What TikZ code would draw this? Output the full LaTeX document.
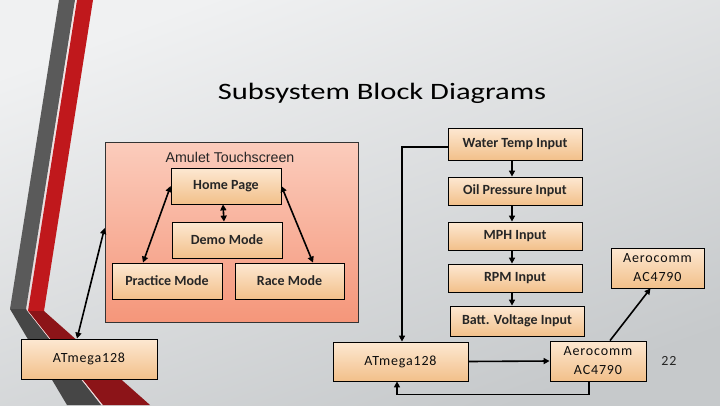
\documentclass[tikz,border=0pt]{standalone}
\usepackage{fontspec}
\setmainfont{Carlito}[Numbers=OldStyle]
\newfontfamily\arialfont{Liberation Sans}
\newfontfamily\widefont{Carlito}[LetterSpace=6]
\usetikzlibrary{arrows.meta}
\definecolor{bgtop}{RGB}{240,241,242}
\definecolor{bgbot}{RGB}{198,201,203}
\definecolor{boxtop}{RGB}{253,232,210}
\definecolor{boxbot}{RGB}{242,192,138}
\definecolor{contop}{RGB}{251,204,188}
\definecolor{conbot}{RGB}{245,150,122}
\definecolor{grayup}{RGB}{90,90,90}
\definecolor{graylow}{RGB}{70,70,70}
\definecolor{redup}{RGB}{192,24,28}
\definecolor{redlow}{RGB}{140,20,24}
\tikzset{
  blk/.style={draw=black, line width=0.8pt, top color=boxtop, bottom color=boxbot,
    font=\fontsize{14}{15}\selectfont\bfseries, text=black!85, align=center, inner sep=0pt},
  thinblk/.style={blk, font=\widefont\fontsize{14}{19}\selectfont, text=black!95},
  conbox/.style={draw=black!80, line width=0.8pt, top color=contop, bottom color=conbot, inner sep=0pt},
  link/.style={line width=1.6pt, -{Triangle[length=6pt,width=6pt]}},
  dlink/.style={line width=1.6pt, {Triangle[length=6pt,width=6pt]}-{Triangle[length=6pt,width=6pt]}}
}
\begin{document}
\begin{tikzpicture}[x=1pt,y=-1pt]
\useasboundingbox (0,0) rectangle (720,405);
% background
\shade[shading=axis, top color=bgtop, bottom color=bgbot, shading angle=20] (0,0) rectangle (720,405);
% ribbons
\fill[grayup] (59,0) -- (75,0) -- (26,309) -- (10,309) -- cycle;
\fill[redup] (77,0) -- (93,0) -- (44,311) -- (28,311) -- cycle;
\fill[graylow] (10,309) -- (26,309) -- (101,405) -- (67,405) -- cycle;
\fill[redlow] (28,311) -- (44,311) -- (150,405) -- (103,405) -- cycle;
\draw[white!85!red, line width=0.5pt] (76,0) -- (27,310) -- (102,405);
% title
\node (title) at (382,93) {\scalebox{1.3}[1]{\fontsize{23.5}{28}\selectfont Subsystem Block Diagrams}};
% container
\node[conbox, minimum width=253pt, minimum height=180pt] (amulet) at (231.5,232) {};
\node[font=\arialfont\fontsize{14.2}{16}\selectfont, text=black!85] (amlabel) at (230,157) {Amulet Touchscreen};
% left boxes
\node[blk, minimum width=110pt, minimum height=36pt] (home) at (226,186) {Home Page};
\node[blk, minimum width=110pt, minimum height=36pt] (demo) at (227,240) {Demo Mode};
\node[blk, minimum width=110pt, minimum height=36pt] (practice) at (167,281) {Practice Mode};
\node[blk, minimum width=109pt, minimum height=36pt] (race) at (289.5,281) {Race Mode};
\node[thinblk, minimum width=136pt, minimum height=40pt] (atm1) at (89,359) {ATmega128};
% right column
\node[blk, minimum width=134pt, minimum height=32pt] (water) at (515,144) {Water Temp Input};
\node[blk, minimum width=134pt, minimum height=28pt] (oil) at (515,191) {Oil Pressure Input};
\node[blk, minimum width=134pt, minimum height=28pt] (mph) at (515,236) {MPH Input};
\node[blk, minimum width=134pt, minimum height=28pt] (rpm) at (515,278) {RPM Input};
\node[blk, minimum width=134pt, minimum height=30pt] (batt) at (517,321) {Batt. Voltage Input};
\node[thinblk, minimum width=93pt, minimum height=40pt] (aero1) at (657.5,268) {Aerocomm\\AC4790};
\node[thinblk, minimum width=135pt, minimum height=39pt] (atm2) at (400.5,361.5) {ATmega128};
\node[thinblk, minimum width=96pt, minimum height=40pt] (aero2) at (598,361) {Aerocomm\\AC4790};
\node[font=\widefont\fontsize{14}{16}\selectfont, text=black!85] (pagenum) at (669,361) {22};
% connectors inside container
\draw[dlink] ([xshift=-3pt]home.south) -- ([xshift=-3pt]demo.north);
\draw[dlink] (home.west) -- ([xshift=-24pt]practice.north);
\draw[dlink] (home.east) -- ([xshift=23.5pt]race.north);
\draw[dlink] ([xshift=-12pt]atm1.north) -- ([yshift=4pt]amulet.west);
% right column chain
\draw[link] ([xshift=-3pt]water.south) -- ([xshift=-3pt]oil.north);
\draw[link] ([xshift=-3pt]oil.south) -- ([xshift=-3pt]mph.north);
\draw[link] ([xshift=-3pt]mph.south) -- ([xshift=-3pt]rpm.north);
\draw[link] ([xshift=-3pt]rpm.south) -- ([xshift=-5pt]batt.north);
\draw[link] ([yshift=-3pt]water.west) -| ([xshift=1.5pt]atm2.north);
\draw[link] (atm2.east) -- (aero2.west);
\draw[link] ([xshift=-9pt]aero2.south) -- ++(0,13) -| ([xshift=-3.5pt]atm2.south);
\draw[link] ([xshift=12pt]aero2.north) -- ([xshift=-7pt]aero1.south);
\end{tikzpicture}
\end{document}
